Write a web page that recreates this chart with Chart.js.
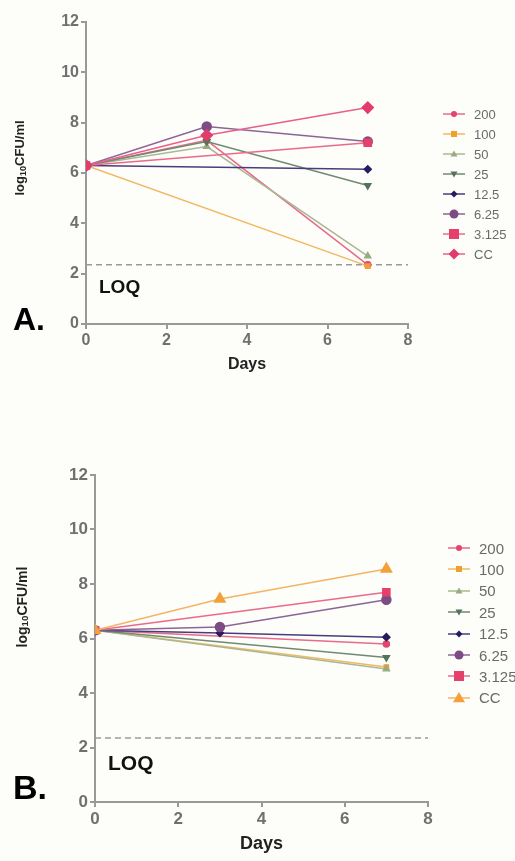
<!DOCTYPE html>
<html>
<head>
<meta charset="utf-8">
<script src="https://cdn.jsdelivr.net/npm/chart.js@4"></script>
<style>
  body { margin: 0; width: 515px; height: 861px; background: #fdfdfa; font-family: "Liberation Sans", Arial, sans-serif; overflow: hidden; }
  .panel { position: absolute; left: 0; }
  .ylab { position: absolute; font-weight: bold; color: #222; white-space: nowrap; transform: translate(-50%, -50%) rotate(-90deg); }
  .ylab sub { font-size: 0.7em; vertical-align: -0.15em; }
  .letter { position: absolute; font-weight: bold; color: #000; line-height: 1; }
  .loq { position: absolute; font-weight: bold; color: #111; line-height: 1; }
  .leg { position: absolute; display: flex; align-items: center; color: #6a6a6a; white-space: nowrap; }
  .leg svg { margin-right: 9px; }
</style>
</head>
<body>
<div class="panel" style="top:0"><canvas id="chartA" width="515" height="380"></canvas></div>
<div class="panel" style="top:430px"><canvas id="chartB" width="515" height="431"></canvas></div>

<div class="ylab" style="left:20px; top:158px; font-size:13px">log<sub>10</sub>CFU/ml</div>
<div class="ylab" style="left:22px; top:607px; font-size:14px">log<sub>10</sub>CFU/ml</div>
<div class="letter" style="left:13px; top:303px; font-size:32px">A.</div>
<div class="letter" style="left:13px; top:770px; font-size:34px">B.</div>
<div class="loq" style="left:99px; top:277px; font-size:19px">LOQ</div>
<div class="loq" style="left:108px; top:752px; font-size:21px">LOQ</div>
<div id="legendA"></div>
<div id="legendB"></div>

<script>
const days = [0, 3, 7];
const xTicks = [0, 2, 4, 6, 8];
const yTicks = [0, 2, 4, 6, 8, 10, 12];
const labels = ['200', '100', '50', '25', '12.5', '6.25', '3.125', 'CC'];
const loqLevel = 2.35;
const loqDays = [0, 8];

// panel A
const a200 = [6.3, 7.3, 2.35];
const a100 = [6.3, null, 2.3];
const a50 = [6.3, 7.05, 2.7];
const a25 = [6.3, 7.25, 5.5];
const a12_5 = [6.3, null, 6.15];
const a6_25 = [6.3, 7.85, 7.25];
const a3_125 = [6.3, null, 7.2];
const aCC = [6.3, 7.5, 8.6];

// panel B
const b200 = [6.3, null, 5.8];
const b100 = [6.3, null, 4.95];
const b50 = [6.3, null, 4.88];
const b25 = [6.3, null, 5.3];
const b12_5 = [6.3, 6.2, 6.05];
const b6_25 = [6.3, 6.42, 7.42];
const b3_125 = [6.3, null, 7.7];
const bCC = [6.3, 7.45, 8.55];

const styles = [
    { color: '#e2456f', line: '#e86a8c', shape: 'circle', r: 3, rot: 0 },
    { color: '#f0a030', line: '#f2b860', shape: 'rect', r: 3, rot: 0 },
    { color: '#9aab7e', line: '#a9b892', shape: 'triangle', r: 3.5, rot: 0 },
    { color: '#56735a', line: '#6f8a72', shape: 'triangle', r: 3.5, rot: 180 },
    { color: '#2b1a60', line: '#4a3c7c', shape: 'rectRot', r: 3.5, rot: 0 },
    { color: '#7c4d84', line: '#8d6594', shape: 'circle', r: 4.5, rot: 0 },
    { color: '#e5406b', line: '#ea6a8c', shape: 'rect', r: 5, rot: 0 },
];
const ccA = { color: '#e23c6c', line: '#e8608a', shape: 'rectRot', r: 5.5, rot: 0 };
const ccB = { color: '#f2a03a', line: '#f3b463', shape: 'triangle', r: 6, rot: 0 };

function series(label, values, st, order) {
    return {
        label,
        data: days.map((d, i) => ({ x: d, y: values[i] })),
        borderColor: st.line,
        backgroundColor: st.color,
        pointBackgroundColor: st.color,
        pointBorderColor: st.color,
        pointStyle: st.shape,
        pointRadius: st.r,
        pointRotation: st.rot,
        borderWidth: 1.5,
        spanGaps: true,
        order,
    };
}

function loqSet() {
    return {
        label: 'LOQ',
        data: loqDays.map(d => ({ x: d, y: loqLevel })),
        borderColor: '#9a9a9a',
        borderDash: [6, 4],
        borderWidth: 1.5,
        pointRadius: 0,
        order: 20,
    };
}

function opts(yWidth, xHeight, pad, fontSize, titleSize) {
    const tickFont = { family: '"Liberation Sans", Arial, sans-serif', weight: 'bold', size: fontSize };
    const axis = {
        border: { color: '#999', width: 2 },
        grid: { drawOnChartArea: false, color: '#999', tickColor: '#999', tickLength: 5, lineWidth: 2 },
    };
    return {
        responsive: false,
        animation: false,
        layout: { padding: pad },
        plugins: { legend: { display: false }, tooltip: { enabled: false } },
        scales: {
            x: {
                ...axis,
                type: 'linear', min: 0, max: 8,
                afterBuildTicks: s => { s.ticks = xTicks.map(v => ({ value: v })); },
                afterFit: s => { s.height = xHeight; },
                ticks: { color: '#707070', font: tickFont, padding: 2 },
                title: { display: true, text: 'Days', color: '#222', font: { ...tickFont, size: titleSize }, padding: { top: 0, bottom: 6 } },
            },
            y: {
                ...axis,
                min: 0, max: 12,
                afterBuildTicks: s => { s.ticks = yTicks.map(v => ({ value: v })); },
                afterFit: s => { s.width = yWidth; },
                ticks: { color: '#707070', font: tickFont, padding: 2 },
            },
        },
    };
}

const setA = [a200, a100, a50, a25, a12_5, a6_25, a3_125];
const setB = [b200, b100, b50, b25, b12_5, b6_25, b3_125];

new Chart(document.getElementById('chartA'), {
    type: 'line',
    data: {
        datasets: [
            ...setA.map((v, i) => series(labels[i], v, styles[i], 10 - i)),
            series('CC', aCC, ccA, 0),
            loqSet(),
        ],
    },
    options: opts(86, 56, { left: 0, right: 107, top: 22, bottom: 0 }, 16, 16),
});

new Chart(document.getElementById('chartB'), {
    type: 'line',
    data: {
        datasets: [
            ...setB.map((v, i) => series(labels[i], v, styles[i], 10 - i)),
            series('CC', bCC, ccB, 0),
            loqSet(),
        ],
    },
    options: opts(95, 59, { left: 0, right: 87, top: 45, bottom: 0 }, 17, 18),
});

function marker(st) {
    const c = 11, m = 6, r = st.r;
    let shape;
    if (st.shape === 'circle') shape = `<circle cx="${c}" cy="${m}" r="${r}"/>`;
    else if (st.shape === 'rect') shape = `<rect x="${c - r}" y="${m - r}" width="${2 * r}" height="${2 * r}"/>`;
    else if (st.shape === 'rectRot') shape = `<polygon points="${c},${m - r} ${c + r},${m} ${c},${m + r} ${c - r},${m}"/>`;
    else if (st.rot === 180) shape = `<polygon points="${c - r},${m - r * 0.7} ${c + r},${m - r * 0.7} ${c},${m + r}"/>`;
    else shape = `<polygon points="${c - r},${m + r * 0.7} ${c + r},${m + r * 0.7} ${c},${m - r}"/>`;
    return `<svg width="22" height="12"><line x1="0" y1="${m}" x2="22" y2="${m}" stroke="${st.line}" stroke-width="1.5"/>` +
        `<g fill="${st.color}">${shape}</g></svg>`;
}

function legend(id, left, top, step, size, cc) {
    const all = [...styles, cc];
    document.getElementById(id).innerHTML = all.map((st, i) =>
        `<div class="leg" style="left:${left}px; top:${top + i * step - 8}px; font-size:${size}px; height:16px">${marker(st)}${labels[i]}</div>`
    ).join('');
}

legend('legendA', 443, 114, 20, 13, ccA);
legend('legendB', 448, 548, 21.4, 15, ccB);
</script>
</body>
</html>
